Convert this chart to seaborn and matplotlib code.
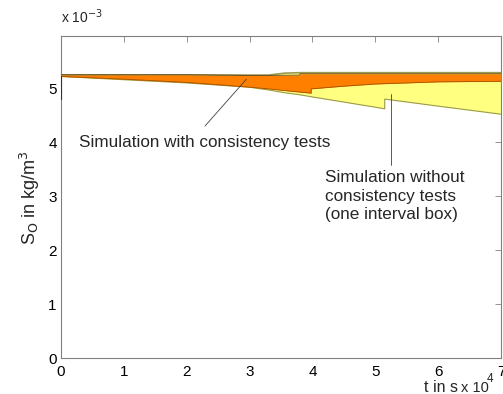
import matplotlib
matplotlib.use("Agg")
import matplotlib.pyplot as plt
import seaborn as sns
import numpy as np

# ---- data (S_O in 1e-3 kg/m^3, t in 1e4 s) ----
t_without = [0, 1, 2, 3, 3.3, 3.55, 3.8, 4, 5, 5.15, 5.15, 6, 7]
upper_without = [5.25, 5.25, 5.25, 5.245, 5.245, 5.28, 5.29, 5.29, 5.29, 5.29, 5.29, 5.29, 5.29]
lower_without = [5.22, 5.16, 5.10, 5.02, 4.97, 4.92, 4.88, 4.84, 4.65, 4.62, 4.80, 4.67, 4.52]

t_with = [0, 1, 2, 2.92, 3.3, 3.8, 3.8, 3.98, 3.98, 4.5, 5, 5.5, 6, 7]
upper_with = [5.25, 5.25, 5.25, 5.24, 5.24, 5.245, 5.27, 5.27, 5.27, 5.27, 5.27, 5.27, 5.27, 5.27]
lower_with = [5.22, 5.17, 5.11, 5.03, 4.99, 4.93, 4.93, 4.91, 4.99, 5.04, 5.08, 5.10, 5.12, 5.13]

init_t = [0, 0]
init_s = [5.22, 4.80]

# pointer lines of the two annotations (data coordinates)
ptr_with_t = [2.29, 2.95]
ptr_with_s = [4.30, 5.17]
ptr_without_t = [5.25, 5.25]
ptr_without_s = [3.58, 4.89]

x_ticks = [0, 1, 2, 3, 4, 5, 6, 7]
y_ticks = [0, 1, 2, 3, 4, 5]

label_with = "Simulation with consistency tests"
label_without = "Simulation without\nconsistency tests\n(one interval box)"

sns.set_style("white")
plt.rcParams['font.family'] = ['Liberation Sans', 'DejaVu Sans']

fig = plt.figure(figsize=(5.03, 3.94), dpi=100)
ax = fig.add_axes([61/503, 36/394, 440/503, 322/394])

yellow = "#FFFF80"
orange = "#FF8000"
ax.fill_between(t_without, lower_without, upper_without, color=yellow, lw=0, zorder=1)
sns.lineplot(x=t_without, y=upper_without, ax=ax, color="#9a9a50", lw=1.2, sort=False, estimator=None, zorder=2)
sns.lineplot(x=t_without, y=lower_without, ax=ax, color="#9a9a50", lw=0.8, sort=False, estimator=None, zorder=2)
ax.fill_between(t_with, lower_with, upper_with, color=orange, lw=0, zorder=3)
sns.lineplot(x=t_with, y=lower_with, ax=ax, color="#a05000", lw=0.6, sort=False, estimator=None, zorder=4)
sns.lineplot(x=t_with, y=upper_with, ax=ax, color="#604020", lw=0.6, sort=False, estimator=None, zorder=4)
ax.plot(init_t, init_s, color="#303030", lw=0.8, zorder=5)
ax.plot(ptr_with_t, ptr_with_s, color="#404040", lw=0.6, zorder=6)
ax.plot(ptr_without_t, ptr_without_s, color="#404040", lw=0.6, zorder=6)

ax.set_xlim(0, 7)
ax.set_ylim(0, 5.97)
ax.set_xticks(x_ticks)
ax.set_yticks(y_ticks)
ax.set_xticklabels([str(v) for v in x_ticks])
ax.set_yticklabels([str(v) for v in y_ticks])
ax.tick_params(direction='in', top=True, right=True, length=4, width=0.6,
               color='#808080', labelsize=11, labelcolor='black')
ax.tick_params(axis='x', pad=5)
ax.tick_params(axis='y', pad=3)
for sp in ax.spines.values():
    sp.set_visible(True)
    sp.set_color('#808080')
    sp.set_linewidth(0.8)

# annotation texts
ax.text(0.28, 4.0, label_with, fontsize=12.3, ha='left', va='center')
ax.text(4.2, 3.0, label_without, fontsize=12.3, ha='left', va='center', linespacing=1.28)

# axis labels and exponent texts
fig.text(30/503, 1 - 198/394, r"S$_\mathrm{O}$ in kg/m$^3$", rotation=90,
         fontsize=13, ha='center', va='center')
fig.text(61/503, 1 - 26/394, r"x 10$^{-3}$", fontsize=10, ha='left', va='bottom')
fig.text(424/503, 1 - 392/394, "t in s", fontsize=11.5, ha='left', va='baseline')
fig.text(461/503, 1 - 392/394, "x 10", fontsize=10.5, ha='left', va='baseline')
fig.text(487/503, 1 - 382/394, "4", fontsize=8.5, ha='left', va='baseline')

fig.savefig("out.png", dpi=100)
